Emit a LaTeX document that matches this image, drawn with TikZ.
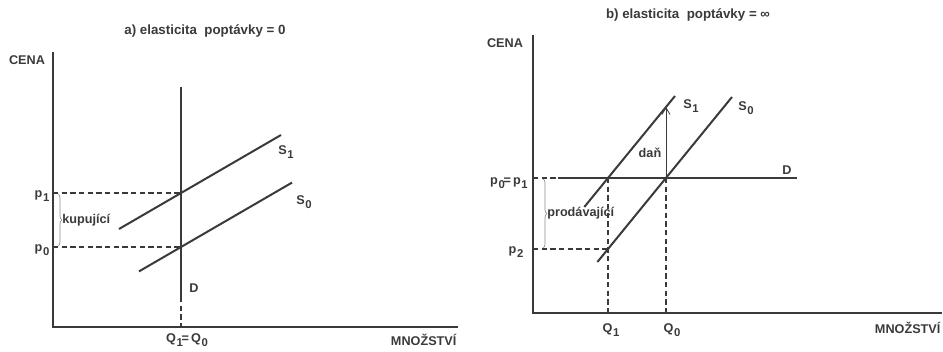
\documentclass[tikz,border=0pt]{standalone}
\usepackage{fontspec}
\setmainfont{Liberation Sans}
\usepackage{tikz}
\usetikzlibrary{arrows.meta, positioning, decorations.pathreplacing}
\definecolor{inkgray}{HTML}{3A3A3A}
\definecolor{bracegray}{HTML}{8A8A8A}
\newcommand{\lowidx}[1]{\kern0.5pt\raisebox{-0.55ex}{\fontsize{8.5}{9}\selectfont #1}}
\tikzset{
    axis/.style={
        line width=1.3pt,
        draw=inkgray
    },
    curve/.style={
        line width=1.5pt,
        draw=inkgray
    },
    guide/.style={
        line width=0.9pt,
        draw=inkgray,
        dash pattern=on 4pt off 2.5pt
    },
    lbl/.style={
        font=\fontsize{9.5}{10}\selectfont\bfseries,
        text=inkgray,
        inner sep=1pt
    },
    titlelbl/.style={
        font=\fontsize{10}{11}\selectfont\bfseries,
        text=inkgray,
        inner sep=1pt
    },
    bracket/.style={
        decorate,
        decoration={brace, amplitude=3pt},
        draw=bracegray,
        line width=0.5pt
    },
    taxarrow/.style={
        -{Straight Barb[length=5pt, width=6pt]},
        line width=0.6pt,
        draw=inkgray
    }
}

\begin{document}
\begin{tikzpicture}[x=0.75pt, y=0.75pt]
    \useasboundingbox (0,0) rectangle (943,351);

    % a) elasticita poptavky = 0
    \coordinate (oa) at (53,24);
    \coordinate (ya) at (53,299);
    \coordinate (xa) at (458,24);
    \coordinate (dtop) at (181,264);
    \coordinate (dlow) at (181,54);
    \coordinate (qa) at (181,24);
    \coordinate (ea1) at (181,158);
    \coordinate (ea0) at (181,104);
    \coordinate (pa1) at (53,158);
    \coordinate (pa0) at (53,104);
    \coordinate (sa1l) at (119,122);
    \coordinate (sa1r) at (281,216);
    \coordinate (sa0l) at (139,79.6);
    \coordinate (sa0r) at (292,168.4);

    \draw[axis] (ya) -- (oa) -- (xa);
    \draw[curve] (dtop) -- (dlow);
    \draw[guide] (dlow) -- (qa);
    \draw[curve] (sa1l) -- (sa1r);
    \draw[curve] (sa0l) -- (sa0r);
    \draw[guide] (pa1) -- (ea1);
    \draw[guide] (pa0) -- (ea0);

    \node[titlelbl] (ta) at (205,320) {a) elasticita\ \ poptávky = 0};
    \node[lbl] (cena_a) at (27,291) {CENA};
    \node[lbl, anchor=east] (mnoz_a) at (458,11) {MNOŽSTVÍ};
    \node[lbl] (lp1) at (42,155) {p\lowidx{1}};
    \node[lbl] (lp0) at (42,101) {p\lowidx{0}};
    \node[lbl] (lq) at (187,11) {Q\lowidx{1}\kern-1pt=\,Q\lowidx{0}};
    \node[lbl] (lda) at (194,63) {D};
    \node[lbl] (ls1a) at (286,199) {S\lowidx{1}};
    \node[lbl] (ls0a) at (304,149) {S\lowidx{0}};
    \coordinate (bra1) at (58,157);
    \coordinate (bra0) at (58,105);
    \draw[bracket] (bra1) -- (bra0) node[lbl, midway, anchor=west, xshift=2pt] (kup) {kupující};

    % b) elasticita poptavky = nekonecno
    \coordinate (ob) at (533,38);
    \coordinate (yb) at (533,316);
    \coordinate (xb) at (942,38);
    \coordinate (pb1) at (533,173);
    \coordinate (dstart) at (558,173);
    \coordinate (dend) at (797,173);
    \coordinate (eb1) at (608,173);
    \coordinate (eb0) at (666,173);
    \coordinate (eb2) at (608,102);
    \coordinate (pb2) at (533,102);
    \coordinate (qb1) at (608,38);
    \coordinate (qb0) at (666,38);
    \coordinate (sb1l) at (584.3,144);
    \coordinate (sb1r) at (675,255);
    \coordinate (sb0l) at (597.4,89);
    \coordinate (sb0r) at (732,254);
    \coordinate (tax) at (666,244);

    \draw[axis] (yb) -- (ob) -- (xb);
    \draw[guide] (pb1) -- (dstart);
    \draw[curve] (dstart) -- (dend);
    \draw[curve] (sb1l) -- (sb1r);
    \draw[curve] (sb0l) -- (sb0r);
    \draw[guide] (eb1) -- (qb1);
    \draw[guide] (eb0) -- (qb0);
    \draw[guide] (pb2) -- (eb2);
    \draw[taxarrow] (eb0) -- (tax);

    \node[titlelbl] (tb) at (688,336) {b) elasticita\ \ poptávky = ∞};
    \node[lbl] (cena_b) at (505,308) {CENA};
    \node[lbl, anchor=east] (mnoz_b) at (942,23) {MNOŽSTVÍ};
    \node[lbl] (lp01) at (509,168) {p\lowidx{0}\kern-1pt=\,p\lowidx{1}};
    \node[lbl] (lp2) at (516,99) {p\lowidx{2}};
    \node[lbl] (lq1) at (611,21) {Q\lowidx{1}};
    \node[lbl] (lq0) at (672,21) {Q\lowidx{0}};
    \node[lbl] (ldb) at (787,181) {D};
    \node[lbl] (ls1b) at (691,245) {S\lowidx{1}};
    \node[lbl] (ls0b) at (746,243) {S\lowidx{0}};
    \node[lbl] (ldan) at (650,198) {daň};
    \coordinate (brb1) at (543,172);
    \coordinate (brb2) at (543,103);
    \draw[bracket] (brb1) -- (brb2) node[lbl, midway, anchor=west, xshift=2pt] (prod) {prodávající};
\end{tikzpicture}
\end{document}
